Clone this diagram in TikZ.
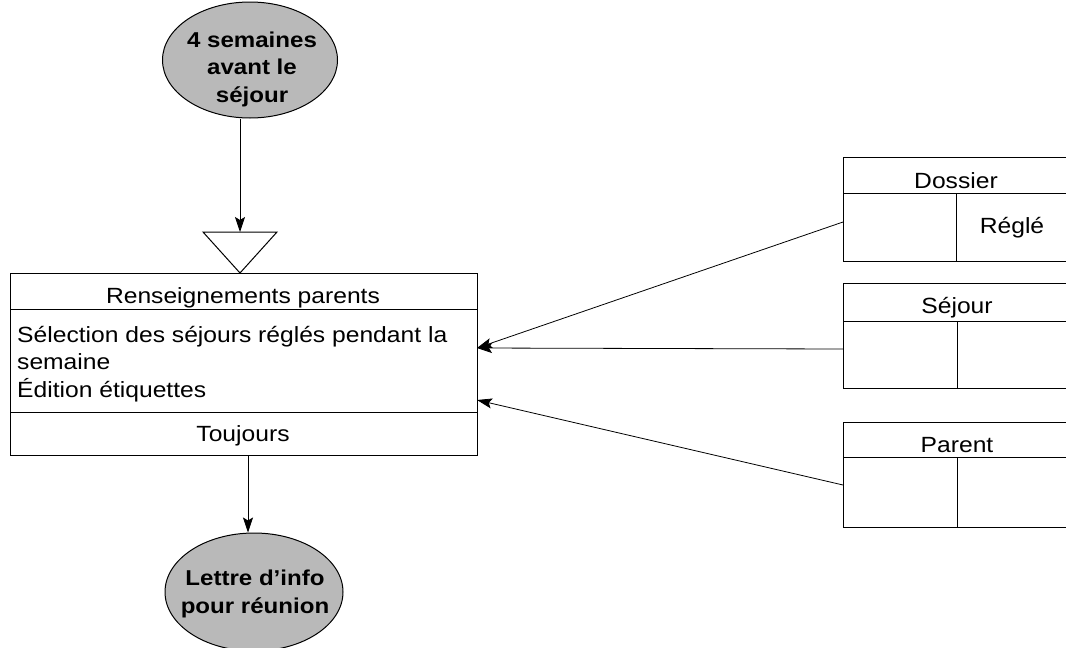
\documentclass[tikz,border=0pt]{standalone}
\usepackage{fontspec}
\setmainfont[FakeStretch=1.12]{Liberation Sans}
\usetikzlibrary{shapes.geometric,arrows.meta,calc}
\begin{document}
\begin{tikzpicture}[x=1pt,y=-1pt,
  txt/.style={font=\fontsize{22}{28}\selectfont, inner sep=0pt},
  oval/.style={ellipse, draw, line width=1pt, fill=gray!55, inner sep=0pt},
  ovaltxt/.style={align=center, inner sep=0pt, font=\bfseries\fontsize{21.5}{27.5}\selectfont},
  cell/.style={draw, line width=1.3pt, inner sep=0pt, anchor=north west},
  arr/.style={-{Stealth[length=15pt,width=10pt,inset=3pt]}, line width=0.8pt}]
\clip (0,0) rectangle (1066,648);
\fill[white] (0,0) rectangle (1066,648);

% start event
\node[oval, minimum width=175pt, minimum height=116pt] (start) at (250,60) {};
\node[ovaltxt] (starttxt) at (252,69) {4 semaines\\avant le\\séjour};
% triangle (synchronisation)
\coordinate (tritop) at (240,232);
\coordinate (triL) at (203,232);
\coordinate (triR) at (277,232);
\coordinate (triapex) at (240,273);
\draw[line width=1pt] (triL) -- (triR) -- (triapex) -- cycle;
\draw[arr] (start.south -| tritop) -- (tritop);

% main operation box
\node[cell, minimum width=467pt, minimum height=36pt] (hdr) at (10,273) {};
\node[cell, minimum width=467pt, minimum height=103pt] (body) at (10,309) {};
\node[cell, minimum width=467pt, minimum height=43pt] (foot) at (10,412) {};
\node[txt, anchor=base] (hdrtxt) at (243,303) {Renseignements parents};
\node[txt, anchor=base west] (l1) at (17,342) {Sélection des séjours réglés pendant la};
\node[txt, anchor=base west] (l2) at (17,369.5) {semaine};
\node[txt, anchor=base west] (l3) at (17,397) {Édition étiquettes};
\node[txt, anchor=base] (foottxt) at (243,441) {Toujours};

% end result
\node[oval, minimum width=178pt, minimum height=118pt] (end) at (254,592) {};
\node[ovaltxt] (endtxt) at (255,594) {Lettre d'info\\pour réunion};
\coordinate (footout) at (248,455);
\draw[arr] (footout) -- (end.north -| footout);

% right tables
\node[cell, minimum width=226pt, minimum height=36pt] (dosH) at (843,157) {};
\node[cell, minimum width=113pt, minimum height=68pt] (dosA) at (843,193) {};
\node[cell, minimum width=113pt, minimum height=68pt] (dosB) at (956,193) {};
\node[txt, anchor=base] (dost) at (956,188) {Dossier};
\node[txt, anchor=base] (regle) at (1012,233) {Réglé};

\node[cell, minimum width=226pt, minimum height=38pt] (sejH) at (843,283) {};
\node[cell, minimum width=114pt, minimum height=67pt] (sejA) at (843,321) {};
\node[cell, minimum width=113pt, minimum height=67pt] (sejB) at (957,321) {};
\node[txt, anchor=base] (sejt) at (957,313) {Séjour};

\node[cell, minimum width=226pt, minimum height=35pt] (parH) at (843,422) {};
\node[cell, minimum width=114pt, minimum height=70pt] (parA) at (843,457) {};
\node[cell, minimum width=113pt, minimum height=70pt] (parB) at (957,457) {};
\node[txt, anchor=base] (part) at (957,452) {Parent};

% connectors
\coordinate (in1) at (477,348);
\coordinate (in2) at (477,400);
\coordinate (o1) at (843,222);
\coordinate (o2) at (843,349);
\coordinate (o3) at (843,485);
\draw[arr] (o1) -- (in1);
\draw[arr] (o2) -- (in1);
\draw[arr] (o3) -- (in2);
\end{tikzpicture}
\end{document}
